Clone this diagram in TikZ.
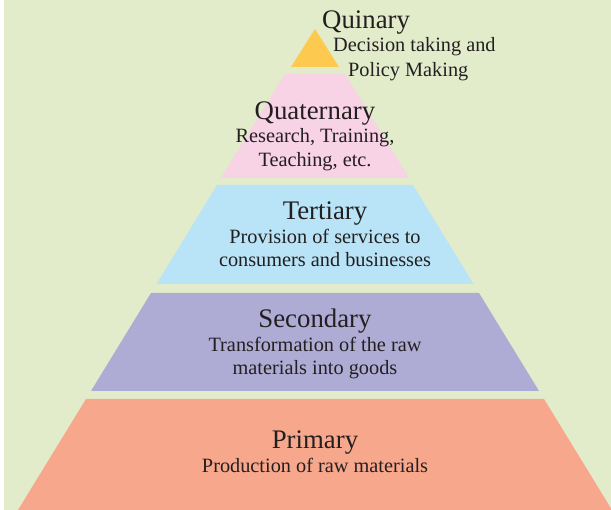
\documentclass[tikz,border=0pt]{standalone}
\usepackage{fontspec}
\setmainfont{Liberation Serif}
\definecolor{bgc}{HTML}{E2ECCA}
\definecolor{quinc}{HTML}{FDC94F}
\definecolor{quatc}{HTML}{F8D2E5}
\definecolor{terc}{HTML}{B9E4F7}
\definecolor{secc}{HTML}{AEABD5}
\definecolor{primc}{HTML}{F7A78B}
\definecolor{inkc}{HTML}{231F20}

\begin{document}
\begin{tikzpicture}[x=1pt, y=-1pt, text=inkc,
	title/.style = {anchor=base, inner sep=0, font=\fontsize{26.8}{30}\selectfont},
	desc/.style = {anchor=base, inner sep=0, align=center, font=\fontsize{20.3}{23.5}\selectfont}]
	\useasboundingbox (0,0) rectangle (611,510);
	\fill[white] (0,0) rectangle (611,510);
	\fill[bgc] (4,0) rectangle (611,510);
	% layers of the pyramid
	\fill[quinc] (315,29) -- (339,67) -- (291,67) -- cycle;
	\fill[quatc] (285,74) -- (345,74) -- (409,178) -- (221,178) -- cycle;
	\fill[terc] (217,185) -- (413,185) -- (473.5,284) -- (156.5,284) -- cycle;
	\fill[secc] (151,293) -- (479,293) -- (539,391) -- (91,391) -- cycle;
	\fill[primc] (86,399) -- (544,399) -- (612,510) -- (18,510) -- cycle;
	% labels (base of a two-line desc is its last line)
	\node[title, anchor=base west] (quin) at (322,29) {Quinary};
	\node[desc, anchor=base west] (quin1) at (333,51.5) {Decision taking and};
	\node[desc, anchor=base west] (quin2) at (348,76.5) {Policy Making};
	\node[title] (quat) at (315,120) {Quaternary};
	\node[desc] (quatd) at (315,166.5) {Research, Training,\\Teaching, etc.};
	\node[title] (ter) at (325,220) {Tertiary};
	\node[desc] (terd) at (325,267) {Provision of services to\\consumers and businesses};
	\node[title] (sec) at (315,328) {Secondary};
	\node[desc] (secd) at (315,375) {Transformation of the raw\\materials into goods};
	\node[title] (prim) at (315,449) {Primary};
	\node[desc] (primd) at (315,472.5) {Production of raw materials};
\end{tikzpicture}
\end{document}
